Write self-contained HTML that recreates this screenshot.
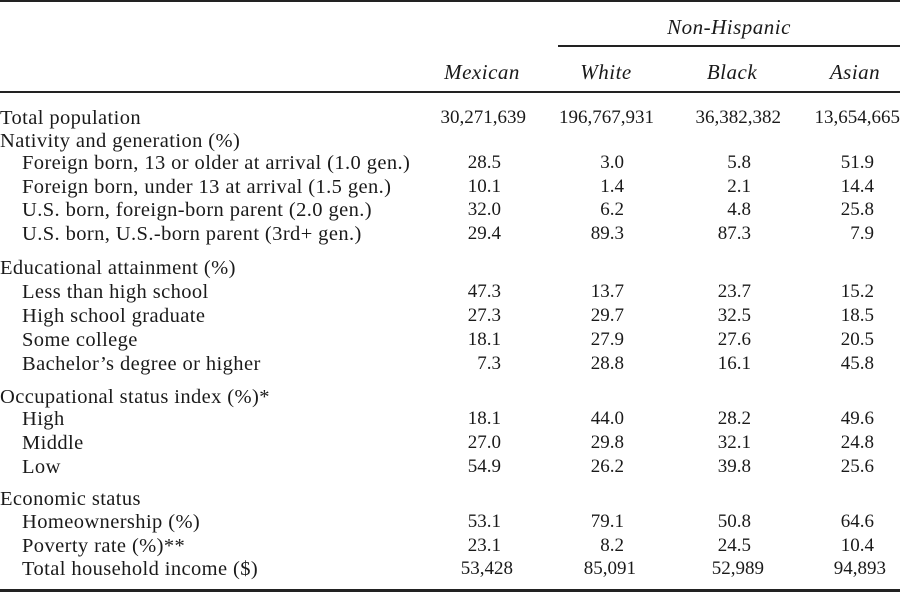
<!DOCTYPE html>
<html><head><meta charset="utf-8"><style>
body{margin:0;background:#fff;}
#c{position:relative;width:900px;height:592px;overflow:hidden;font-family:"Liberation Serif",serif;font-size:19px;color:#1a1a1a;}
.t{position:absolute;height:22px;line-height:22px;white-space:nowrap;}
.l{font-size:20.5px;letter-spacing:0.4px;}
.r{text-align:right;}
.i{font-style:italic;font-size:21px;letter-spacing:0.5px;}
.h{position:absolute;background:#222;height:2px;}
</style></head><body><div id="c">
<div class="h" style="left:0;top:0;width:900px;"></div>
<div class="h" style="left:558px;top:45px;width:342px;"></div>
<div class="h" style="left:0;top:91px;width:900px;"></div>
<div class="h" style="left:0;top:589px;width:900px;height:3px;"></div>
<div class="t i" style="left:629px;width:200px;text-align:center;top:16px;">Non-Hispanic</div>
<div class="t i" style="left:422px;width:120px;text-align:center;top:61px;">Mexican</div>
<div class="t i" style="left:546px;width:120px;text-align:center;top:61px;">White</div>
<div class="t i" style="left:672px;width:120px;text-align:center;top:61px;">Black</div>
<div class="t i" style="left:795px;width:120px;text-align:center;top:61px;">Asian</div>
<div id="rows"></div>
</div>
<script>
var rows=[
[118,0,"Total population",["30,271,639","196,767,931","36,382,382","13,654,665"],"big"],
[141,0,"Nativity and generation (%)"],
[163,1,"Foreign born, 13 or older at arrival (1.0 gen.)",["28.5","3.0","5.8","51.9"]],
[187,1,"Foreign born, under 13 at arrival (1.5 gen.)",["10.1","1.4","2.1","14.4"]],
[210,1,"U.S. born, foreign-born parent (2.0 gen.)",["32.0","6.2","4.8","25.8"]],
[234,1,"U.S. born, U.S.-born parent (3rd+ gen.)",["29.4","89.3","87.3","7.9"]],
[268,0,"Educational attainment (%)"],
[292,1,"Less than high school",["47.3","13.7","23.7","15.2"]],
[316,1,"High school graduate",["27.3","29.7","32.5","18.5"]],
[340,1,"Some college",["18.1","27.9","27.6","20.5"]],
[364,1,"Bachelor’s degree or higher",["7.3","28.8","16.1","45.8"]],
[397,0,"Occupational status index (%)*"],
[419,1,"High",["18.1","44.0","28.2","49.6"]],
[443,1,"Middle",["27.0","29.8","32.1","24.8"]],
[467,1,"Low",["54.9","26.2","39.8","25.6"]],
[499,0,"Economic status"],
[522,1,"Homeownership (%)",["53.1","79.1","50.8","64.6"]],
[546,1,"Poverty rate (%)**",["23.1","8.2","24.5","10.4"]],
[569,1,"Total household income ($)",["53,428","85,091","52,989","94,893"],"inc"]
];
var dec=[501,624,751,874],big=[526,654,781,900],inc=[513,636,764,886];
var h="";
rows.forEach(function(r){
 h+='<div class="t l" style="left:'+(r[1]?22:0)+'px;top:'+(r[0]-11)+'px;">'+r[2]+'</div>';
 if(r[3]){var e=r[4]=="big"?big:r[4]=="inc"?inc:dec;
 r[3].forEach(function(v,k){h+='<div class="t r" style="left:'+(e[k]-150)+'px;width:150px;top:'+(r[0]-11)+'px;">'+v+'</div>';});}
});
document.getElementById("rows").innerHTML=h;
</script>
</body></html>
